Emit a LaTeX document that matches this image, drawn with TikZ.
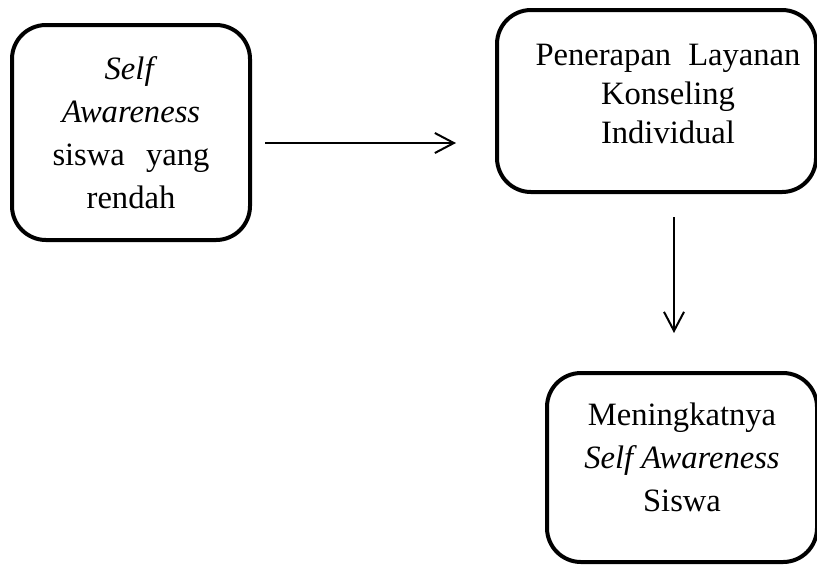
\documentclass[tikz,border=0pt]{standalone}
\usepackage{fontspec}
\setmainfont{Liberation Serif}
\usetikzlibrary{arrows.meta}
\usetikzlibrary{positioning}
\tikzset{
    stage/.style={
        draw,
        rectangle,
        rounded corners=17pt,
        line width=2pt,
        inner sep=0pt
    },
    stagetext/.style={
        align=center,
        inner sep=0pt,
        font=\fontsize{16.3}{21.5}\selectfont
    },
    flow/.style={
        draw,
        -{Straight Barb[length=9.5pt, width=10pt]},
        line width=1pt
    }
}

\begin{document}
\begin{tikzpicture}[x=0.5pt, y=-0.5pt]
  \useasboundingbox (0,0) rectangle (817,564);

  % Boxes
  \node[stage, minimum width=119pt, minimum height=107.5pt,
        label={[stagetext]center:{\textit{Self}\\ \textit{Awareness}\\ \makebox[78.5pt][s]{siswa yang}\\ rendah}}]
    (low) at (131,132.5) {};
  \node[stage, minimum width=159.5pt, minimum height=91pt,
        label={[stagetext, font=\fontsize{16.3}{19.5}\selectfont, shift={(11.5,-7)}]center:{\makebox[132.5pt][s]{Penerapan Layanan}\\ Konseling\\ Individual}}]
    (apply) at (656.5,101) {};
  \node[stage, minimum width=135pt, minimum height=94.5pt,
        label={[stagetext, shift={(0,-10)}]center:{Meningkatnya\\ \textit{Self Awareness}\\ Siswa}}]
    (result) at (682,467.5) {};

  % Arrows
  \draw[flow] ([shift={(13,10.5)}]low.east) -- ([shift={(-39,42)}]apply.west);
  \draw[flow] ([shift={(17.5,23)}]apply.south) -- ([shift={(-8,-38)}]result.north);
\end{tikzpicture}
\end{document}
